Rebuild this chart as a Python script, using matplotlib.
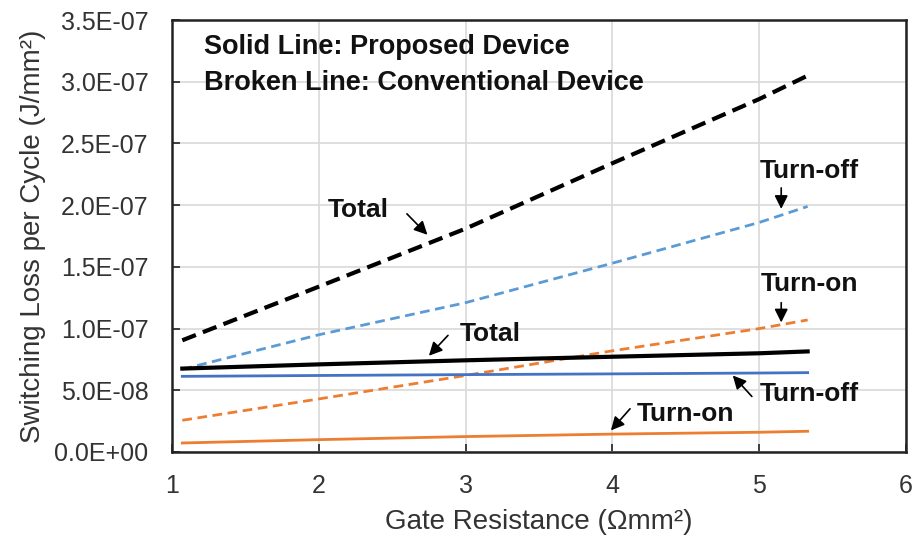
import matplotlib
matplotlib.use("Agg")
import matplotlib.pyplot as plt

plt.rcParams['font.family'] = ['Liberation Sans', 'DejaVu Sans']

# Gate resistance (Ohm mm^2)
x = [1.07, 2, 3, 4, 5, 5.33]
# Conventional device (broken lines)
conv_total = [0.905e-7, 1.34e-7, 1.81e-7, 2.34e-7, 2.86e-7, 3.05e-7]
conv_off = [0.67e-7, 0.95e-7, 1.21e-7, 1.53e-7, 1.86e-7, 1.99e-7]
conv_on = [0.257e-7, 0.43e-7, 0.62e-7, 0.82e-7, 1.00e-7, 1.07e-7]
# Proposed device (solid lines)
prop_total = [0.676e-7, 0.71e-7, 0.743e-7, 0.772e-7, 0.80e-7, 0.815e-7]
prop_off = [0.613e-7, 0.62e-7, 0.627e-7, 0.633e-7, 0.64e-7, 0.643e-7]
prop_on = [0.073e-7, 0.10e-7, 0.125e-7, 0.145e-7, 0.16e-7, 0.168e-7]

xticks = [1, 2, 3, 4, 5, 6]
yticks = [0, 0.5e-7, 1.0e-7, 1.5e-7, 2.0e-7, 2.5e-7, 3.0e-7, 3.5e-7]
ytick_labels = ['0.0E+00', '5.0E-08', '1.0E-07', '1.5E-07', '2.0E-07', '2.5E-07', '3.0E-07', '3.5E-07']

fig = plt.figure(figsize=(9.17, 5.43), dpi=100)
ax = fig.add_axes([0.1876, 0.1676, 0.8004, 0.7954])

ax.plot(x, conv_total, color='black', lw=3, dashes=(3.5, 1.8))
ax.plot(x, conv_off, color='#5B9BD5', lw=2, dashes=(3.5, 2))
ax.plot(x, conv_on, color='#ED7D31', lw=2, dashes=(3.5, 2))
ax.plot(x, prop_total, color='black', lw=3)
ax.plot(x, prop_off, color='#4472C4', lw=2)
ax.plot(x, prop_on, color='#ED7D31', lw=2)

ax.set_xlim(1, 6)
ax.set_ylim(0, 3.5e-7)
ax.set_xticks(xticks)
ax.set_yticks(yticks)
ax.set_yticklabels(ytick_labels)
ax.grid(True, color='#d9d9d9', lw=1.2)
ax.set_axisbelow(True)
for s in ax.spines.values():
    s.set_linewidth(1.8)
    s.set_color('#222222')
ax.tick_params(axis='y', direction='in', length=6, width=1.2, labelsize=18, colors='#222222',
               labelcolor='#333333', pad=17)
ax.tick_params(axis='x', direction='in', length=6, width=1.2, labelsize=18, colors='#222222',
               labelcolor='#333333', pad=16)
ax.set_xlabel('Gate Resistance (Ωmm²)', fontsize=20, color='#333333', labelpad=8)
ax.set_ylabel('Switching Loss per Cycle (J/mm²)', fontsize=20, color='#333333', labelpad=6)

tk = dict(fontsize=19.5, fontweight='bold', color='#111111')
ax.text(1.22, 3.28e-7, 'Solid Line: Proposed Device', va='center', ha='left', **tk)
ax.text(1.22, 2.99e-7, 'Broken Line: Conventional Device', va='center', ha='left', **tk)

ann = dict(fontsize=19, fontweight='bold', color='#111111', va='center', ha='center')
ap = dict(arrowstyle='-|>', color='black', lw=1.2, mutation_scale=20, shrinkA=0, shrinkB=0)

ax.text(2.27, 1.96e-7, 'Total', **ann)
ax.annotate('', xy=(2.74, 1.76e-7), xytext=(2.60, 1.93e-7), arrowprops=ap)

ax.text(5.34, 2.28e-7, 'Turn-off', **ann)
ax.annotate('', xy=(5.15, 1.97e-7), xytext=(5.15, 2.14e-7), arrowprops=ap)

ax.text(5.34, 1.36e-7, 'Turn-on', **ann)
ax.annotate('', xy=(5.15, 1.05e-7), xytext=(5.15, 1.21e-7), arrowprops=ap)

ax.text(3.17, 0.96e-7, 'Total', **ann)
ax.annotate('', xy=(2.75, 0.78e-7), xytext=(2.88, 0.945e-7), arrowprops=ap)

ax.text(5.34, 0.47e-7, 'Turn-off', **ann)
ax.annotate('', xy=(4.82, 0.62e-7), xytext=(4.95, 0.45e-7), arrowprops=ap)

ax.text(4.5, 0.31e-7, 'Turn-on', **ann)
ax.annotate('', xy=(3.99, 0.175e-7), xytext=(4.12, 0.35e-7), arrowprops=ap)

fig.savefig('out.png', dpi=100)
